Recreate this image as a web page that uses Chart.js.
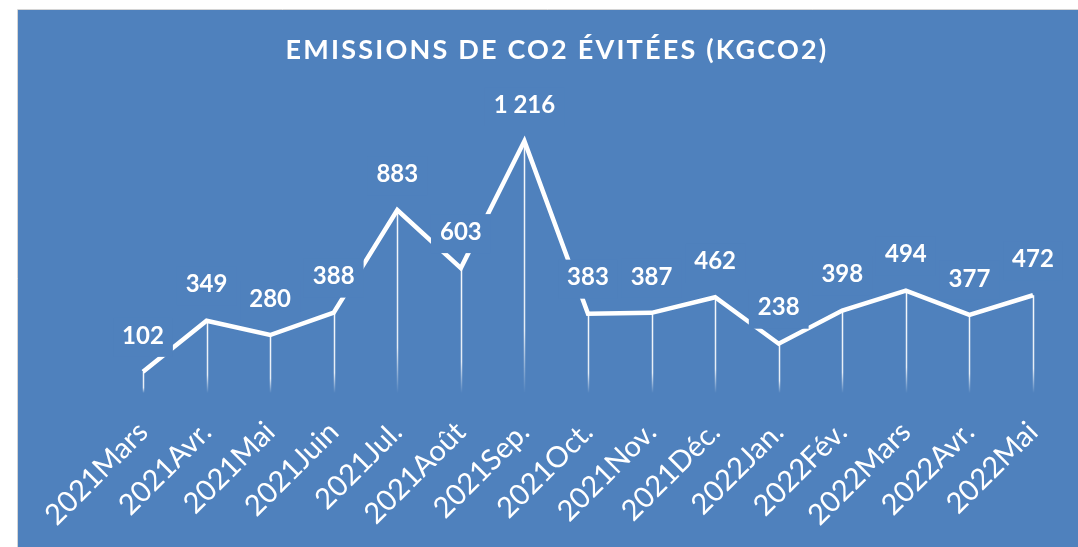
<!DOCTYPE html>
<html>
<head>
<meta charset="utf-8">
<script src="https://cdn.jsdelivr.net/npm/chart.js@4"></script>
<style>
  html, body { margin: 0; padding: 0; background: #fff; }
</style>
</head>
<body>
<canvas id="co2Chart" width="1078" height="547"></canvas>
<script>
const months = ['2021Mars', '2021Avr.', '2021Mai', '2021Juin', '2021Jul.', '2021Août', '2021Sep.',
  '2021Oct.', '2021Nov.', '2021Déc.', '2022Jan.', '2022Fév.', '2022Mars', '2022Avr.', '2022Mai'];
const co2Avoided = [102, 349, 280, 388, 883, 603, 1216, 383, 387, 462, 238, 398, 494, 377, 472];
const chartTitle = 'EMISSIONS DE CO2 ÉVITÉES (KGCO2)';

const BLUE = '#4f81bd';

// french style thousands: 1 216
const fmt = v => String(v).replace(/\B(?=(\d{3})+(?!\d))/g, ' ');

const panelBg = {
  id: 'panelBg',
  beforeDraw(chart) {
    const ctx = chart.ctx;
    ctx.save();
    ctx.fillStyle = '#ffffff';
    ctx.fillRect(0, 0, chart.width, chart.height);
    ctx.fillStyle = BLUE;
    ctx.fillRect(18, 10, chart.width - 18, chart.height - 10);
    ctx.strokeStyle = '#d4d4d4';
    ctx.lineWidth = 1;
    ctx.beginPath();
    ctx.moveTo(17.5, chart.height);
    ctx.lineTo(17.5, 9.5);
    ctx.lineTo(chart.width, 9.5);
    ctx.stroke();
    ctx.restore();
  }
};

const dropLines = {
  id: 'dropLines',
  beforeDatasetsDraw(chart) {
    const ctx = chart.ctx;
    const base = chart.scales.y.getPixelForValue(0);
    ctx.save();
    ctx.lineWidth = 1.5;
    chart.getDatasetMeta(0).data.forEach(pt => {
      const g = ctx.createLinearGradient(0, pt.y, 0, base);
      g.addColorStop(0, 'rgba(255,255,255,0.95)');
      g.addColorStop(0.75, 'rgba(255,255,255,0.85)');
      g.addColorStop(1, 'rgba(255,255,255,0)');
      ctx.strokeStyle = g;
      ctx.beginPath();
      ctx.moveTo(Math.round(pt.x) + 0.5, pt.y);
      ctx.lineTo(Math.round(pt.x) + 0.5, base);
      ctx.stroke();
    });
    ctx.restore();
  }
};

const valueLabels = {
  id: 'valueLabels',
  afterDatasetsDraw(chart) {
    const ctx = chart.ctx;
    const vals = chart.data.datasets[0].data;
    ctx.save();
    ctx.font = 'bold 24px Lato';
    ctx.textAlign = 'center';
    ctx.textBaseline = 'middle';
    chart.getDatasetMeta(0).data.forEach((pt, i) => {
      const txt = fmt(vals[i]);
      const w = ctx.measureText(txt).width;
      const cy = pt.y - 36;
      ctx.fillStyle = BLUE;
      ctx.fillRect(pt.x - w / 2 - 9, cy - 18, w + 18, 39);
      ctx.fillStyle = '#ffffff';
      ctx.fillText(txt, pt.x, cy);
    });
    ctx.restore();
  }
};

const titleText = {
  id: 'titleText',
  afterDraw(chart) {
    const ctx = chart.ctx;
    ctx.save();
    ctx.font = 'bold 27px Lato';
    ctx.letterSpacing = '2.2px';
    ctx.fillStyle = '#ffffff';
    ctx.textAlign = 'center';
    ctx.textBaseline = 'alphabetic';
    ctx.fillText(chartTitle, 557, 59);
    ctx.restore();
  }
};

new Chart(document.getElementById('co2Chart'), {
  type: 'line',
  data: {
    labels: months,
    datasets: [{
      label: 'kgCO2',
      data: co2Avoided,
      borderColor: '#ffffff',
      borderWidth: 4.5,
      borderJoinStyle: 'miter',
      pointRadius: 0,
      tension: 0,
      fill: false
    }]
  },
  options: {
    responsive: false,
    animation: false,
    layout: { padding: { top: 103, left: 143, right: 45, bottom: 0 } },
    scales: {
      x: {
        grid: { display: false },
        border: { display: false },
        ticks: {
          color: '#ffffff',
          font: { family: 'Lato', size: 29 },
          minRotation: 45,
          maxRotation: 45,
          autoSkip: false,
          padding: 14
        },
        afterFit: s => { s.height = 154; }
      },
      y: { display: false, min: 0, max: 1400 }
    },
    plugins: {
      legend: { display: false },
      tooltip: { enabled: false }
    }
  },
  plugins: [panelBg, dropLines, valueLabels, titleText]
});
</script>
</body>
</html>
